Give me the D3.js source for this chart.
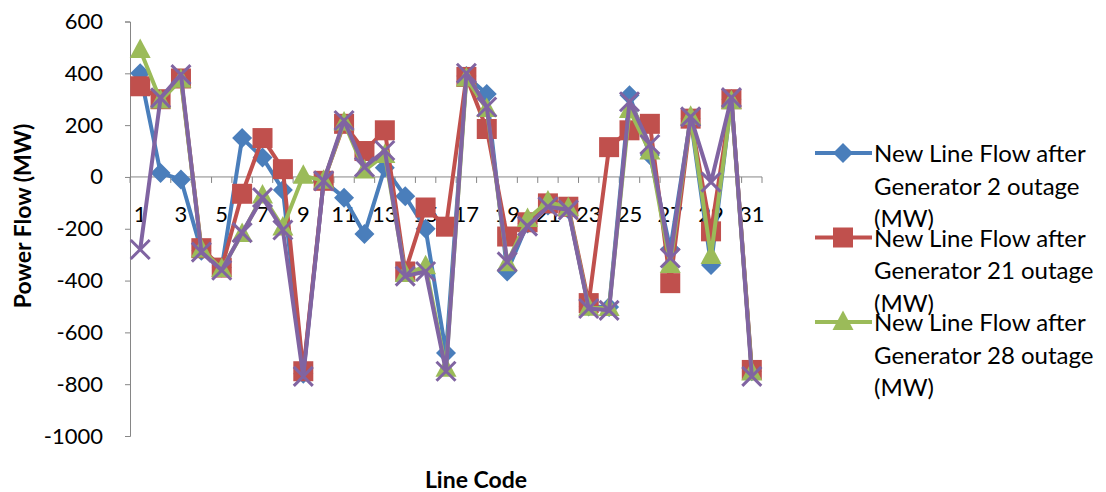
<!DOCTYPE html>
<html><head><meta charset="utf-8">
<script src="https://cdn.jsdelivr.net/npm/d3@7"></script>
<style>body{margin:0;background:#fff}svg{display:block}</style>
</head><body>
<svg id="c" width="1106" height="492"></svg>
<script>
const categories = d3.range(1, 32);
const gen2  = [400, 15, -10, -285, -350, 150, 75, -50, -760, -15, -80, -220, 35, -75, -200, -680, 390, 320, -365, -180, -110, -125, -500, -502, 315, 85, -278, 225, -340, 300, -750];
const gen21 = [350, 300, 380, -275, -350, -65, 150, 30, -750, -15, 205, 100, 180, -365, -118, -192, 386, 185, -230, -175, -102, -115, -487, 115, 180, 205, -410, 225, -210, 300, -745];
const gen28 = [490, 295, 375, -280, -355, -220, -72, -195, 5, -15, 210, 25, 85, -375, -345, -740, 380, 262, -333, -162, -95, -120, -505, -506, 258, 98, -340, 232, -305, 292, -755];
const genX  = [-280, 305, 395, -290, -360, -215, -80, -205, -770, -15, 218, 38, 102, -383, -365, -750, 400, 270, -328, -190, -115, -127, -508, -515, 290, 125, -313, 232, -20, 306, -770];
const yTicks = [600, 400, 200, 0, -200, -400, -600, -800, -1000];
const legendLines = [["New Line Flow after", "Generator 2 outage", "(MW)"], ["New Line Flow after", "Generator 21 outage", "(MW)"], ["New Line Flow after", "Generator 28 outage", "(MW)"]];

const colors = ["#4A7EBB", "#C0504D", "#9BBB59", "#8064A2"];
const markers = ["diamond", "square", "triangle", "x"];
const seriesData = [gen2, gen21, gen28, genX];

const svg = d3.select("#c");
const font = "Lato, 'Open Sans', sans-serif";
const x = d3.scaleBand().domain(categories).range([130, 762]).padding(0);
const y = d3.scaleLinear().domain([-1000, 600]).range([436, 21.5]);
const axisColor = "#868686";

// Y axis
const yAxis = svg.append("g").attr("transform", "translate(130,0)")
  .call(d3.axisLeft(y).tickValues(yTicks).tickSize(5).tickPadding(22).tickFormat(d => String(d)));
yAxis.select(".domain").attr("stroke", axisColor).attr("stroke-width", 1);
yAxis.selectAll(".tick line").attr("stroke", axisColor);
yAxis.selectAll("text").attr("font-family", font).attr("font-size", 22).attr("fill", "#000");

// X axis at zero
const xg = svg.append("g");
xg.append("line").attr("x1", 130).attr("x2", 762).attr("y1", y(0)).attr("y2", y(0)).attr("stroke", axisColor);
xg.selectAll(".xt").data(d3.range(0, 32)).enter().append("line")
  .attr("x1", i => 130 + i * x.bandwidth()).attr("x2", i => 130 + i * x.bandwidth())
  .attr("y1", y(0)).attr("y2", y(0) + 6).attr("stroke", axisColor);
xg.selectAll(".xl").data(categories.filter(c => c % 2 === 1)).enter().append("text")
  .attr("x", d => x(d) + x.bandwidth() / 2).attr("y", 222)
  .attr("text-anchor", "middle").attr("font-family", font).attr("font-size", 22).text(d => d);

// markers
function drawMarker(g, type, color, cx, cy, s) {
  if (type === "diamond") {
    g.append("path").attr("d", `M${cx},${cy - s}L${cx + s},${cy}L${cx},${cy + s}L${cx - s},${cy}Z`).attr("fill", color);
  } else if (type === "square") {
    g.append("rect").attr("x", cx - s).attr("y", cy - s).attr("width", s * 2).attr("height", s * 2).attr("fill", color);
  } else if (type === "triangle") {
    g.append("path").attr("d", `M${cx},${cy - s * 1.15}L${cx + s * 1.05},${cy + s * 0.8}L${cx - s * 1.05},${cy + s * 0.8}Z`).attr("fill", color);
  } else {
    const h = s * 0.95;
    g.append("path").attr("d", `M${cx - h},${cy - h}L${cx + h},${cy + h}M${cx + h},${cy - h}L${cx - h},${cy + h}`)
      .attr("stroke", color).attr("stroke-width", 3).attr("fill", "none");
  }
}

const line = d3.line().x((d, i) => x(categories[i]) + x.bandwidth() / 2).y(d => y(d));
seriesData.forEach((vals, si) => {
  const g = svg.append("g");
  g.append("path").datum(vals).attr("d", line).attr("fill", "none")
    .attr("stroke", colors[si]).attr("stroke-width", 4).attr("stroke-linejoin", "round");
  vals.forEach((v, i) => drawMarker(g, markers[si], colors[si], x(categories[i]) + x.bandwidth() / 2, y(v), 10));
});

// Legend
legendLines.forEach((lines, li) => {
  const ly = 153 + li * 84.5;
  const g = svg.append("g");
  g.append("line").attr("x1", 815).attr("x2", 872).attr("y1", ly).attr("y2", ly).attr("stroke", colors[li]).attr("stroke-width", 4);
  drawMarker(g, markers[li], colors[li], 843, ly, 10);
  lines.forEach((t, k) => {
    g.append("text").attr("x", 874).attr("y", ly + 9 + k * 32.5).attr("font-family", font).attr("font-size", 24).attr("fill", "#000").text(t);
  });
});

// Axis titles
svg.append("text").attr("transform", "translate(31,216) rotate(-90)").attr("text-anchor", "middle")
  .attr("font-family", font).attr("font-weight", "bold").attr("font-size", 23).text("Power Flow (MW)");
svg.append("text").attr("x", 476).attr("y", 488).attr("text-anchor", "middle")
  .attr("font-family", font).attr("font-weight", "bold").attr("font-size", 23).text("Line Code");
</script>
</body></html>
